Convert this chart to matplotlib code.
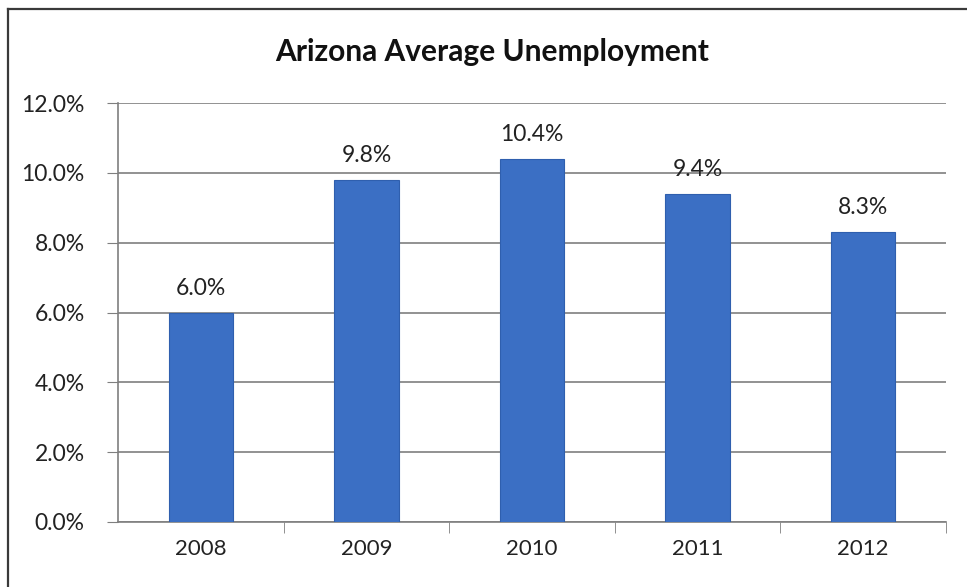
import matplotlib.pyplot as plt
from matplotlib.lines import Line2D
from matplotlib.ticker import FuncFormatter, FixedLocator

years = ["2008", "2009", "2010", "2011", "2012"]
rates = [6.0, 9.8, 10.4, 9.4, 8.3]
labels = ["6.0%", "9.8%", "10.4%", "9.4%", "8.3%"]

plt.rcParams['font.family'] = ['Lato', 'DejaVu Sans']

W, H = 967, 587
fig = plt.figure(figsize=(W / 100, H / 100), dpi=100)
ax = fig.add_axes([118 / W, 1 - 522 / H, (946 - 118) / W, (522 - 103) / H])

x = range(len(years))
bars = ax.bar(x, rates, width=0.39, color="#3b6fc4", edgecolor="#2f5fae", linewidth=0.8, zorder=3)

for b, lab in zip(bars, labels):
    ax.text(b.get_x() + b.get_width() / 2, b.get_height() + 0.4, lab,
            ha="center", va="bottom", fontsize=16.5, color="#222222")

ax.set_xlim(-0.5, len(years) - 0.5)
ax.set_ylim(0, 12)
ax.set_yticks([0, 2, 4, 6, 8, 10, 12])
ax.yaxis.set_major_formatter(FuncFormatter(lambda v, p: f"{v:.1f}%"))
ax.grid(axis="y", color="#7f7f7f", linewidth=1.2, zorder=0)

ax.set_xticks(list(x))
ax.set_xticklabels(years)
ax.xaxis.set_minor_locator(FixedLocator([i + 0.5 for i in range(len(years))]))
ax.tick_params(axis="x", which="major", length=0, pad=12, labelsize=16, labelcolor="#222222")
ax.tick_params(axis="x", which="minor", length=8, direction="out", color="#7f7f7f")
ax.tick_params(axis="y", length=8, direction="out", color="#7f7f7f", pad=16, labelsize=16.5,
               labelcolor="#222222")

for s in ["top", "right"]:
    ax.spines[s].set_visible(False)
for s in ["left", "bottom"]:
    ax.spines[s].set_color("#7f7f7f")
    ax.spines[s].set_linewidth(1.2)

fig.text(492 / W, 1 - 52 / H, "Arizona Average Unemployment",
         ha="center", va="center", fontsize=21.5, fontweight="bold", color="#111111")

# outer frame, only the top and left edges
fig.add_artist(Line2D([8 / W, 8 / W], [0, 1 - 9 / H], color="#3a3a3a", linewidth=1.6, transform=fig.transFigure))
fig.add_artist(Line2D([8 / W, 1], [1 - 9 / H, 1 - 9 / H], color="#3a3a3a", linewidth=1.6, transform=fig.transFigure))

fig.savefig("out.png", dpi=100)
